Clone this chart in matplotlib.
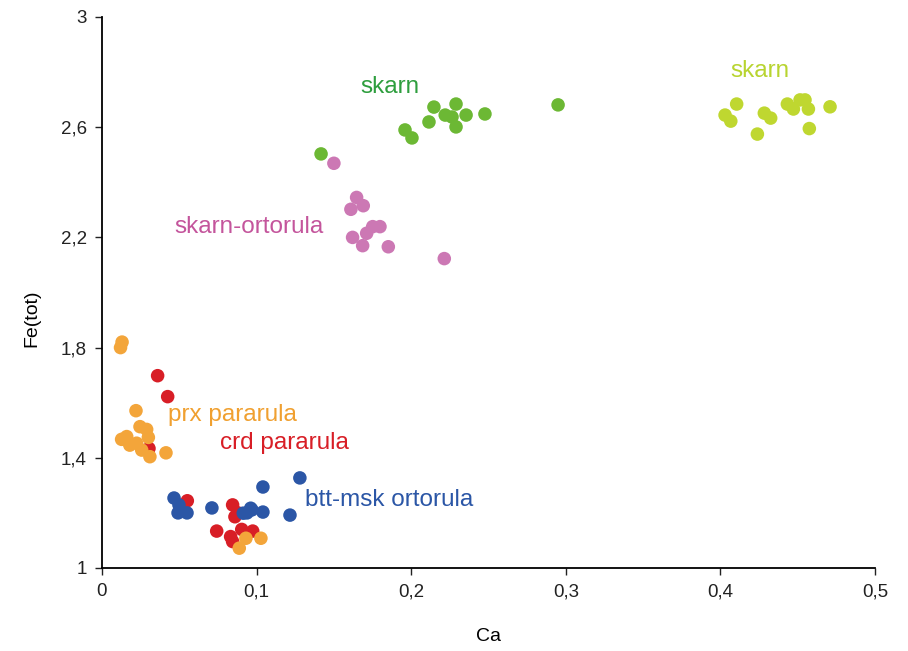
import matplotlib
matplotlib.use("Agg")
import matplotlib.pyplot as plt
from matplotlib.ticker import FuncFormatter

plt.rcParams['font.family'] = ['Liberation Sans', 'DejaVu Sans']

# skarn (green)
skarn_g_x = [0.1417, 0.196, 0.2005, 0.2115, 0.2147, 0.222, 0.2264, 0.229, 0.229, 0.2355, 0.2477, 0.295]
skarn_g_y = [2.503, 2.590, 2.561, 2.619, 2.673, 2.644, 2.637, 2.684, 2.601, 2.644, 2.648, 2.681]

# skarn (lime)
skarn_l_x = [0.403, 0.4067, 0.4105, 0.4239, 0.4284, 0.4325, 0.4433, 0.4472, 0.4515, 0.4547, 0.4569, 0.4575, 0.4709]
skarn_l_y = [2.644, 2.622, 2.684, 2.575, 2.651, 2.633, 2.684, 2.666, 2.699, 2.699, 2.666, 2.595, 2.674]

# skarn-ortorula (pink)
sko_x = [0.150, 0.1647, 0.169, 0.161, 0.1798, 0.1751, 0.1712, 0.1621, 0.1686, 0.1852, 0.2214]
sko_y = [2.469, 2.345, 2.315, 2.302, 2.239, 2.239, 2.215, 2.200, 2.170, 2.166, 2.123]

# crd pararula (red)
crd_x = [0.036, 0.0425, 0.0304, 0.0552, 0.0845, 0.086, 0.0742, 0.0832, 0.0845, 0.0904, 0.0975, 0.088]
crd_y = [1.698, 1.622, 1.434, 1.244, 1.229, 1.186, 1.134, 1.114, 1.096, 1.140, 1.134, 1.20]

# prx pararula (orange)
prx_x = [0.012, 0.013, 0.022, 0.0246, 0.0289, 0.030, 0.0127, 0.016, 0.018, 0.0224, 0.0257, 0.031, 0.0414,
         0.0888, 0.0931, 0.1028]
prx_y = [1.80, 1.82, 1.571, 1.513, 1.503, 1.474, 1.467, 1.477, 1.446, 1.453, 1.428, 1.404, 1.418,
         1.072, 1.108, 1.108]

# btt-msk ortorula (blue)
btt_x = [0.0466, 0.0498, 0.0492, 0.055, 0.0711, 0.0938, 0.097, 0.1041, 0.1041, 0.1216, 0.128, 0.0914, 0.0962]
btt_y = [1.254, 1.229, 1.200, 1.200, 1.218, 1.200, 1.211, 1.203, 1.294, 1.192, 1.327, 1.199, 1.217]

fig = plt.figure(figsize=(9.08, 6.51), dpi=100)
ax = fig.add_axes([0.1123, 0.1275, 0.8514, 0.8464])

s = 95
ax.scatter(skarn_g_x, skarn_g_y, s=s, color='#6cb834', edgecolors='none', zorder=3)
ax.scatter(skarn_l_x, skarn_l_y, s=s, color='#bfd730', edgecolors='none', zorder=3)
ax.scatter(sko_x, sko_y, s=s, color='#cc78b4', edgecolors='none', zorder=3)
ax.scatter(crd_x, crd_y, s=s, color='#d81e26', edgecolors='none', zorder=3)
ax.scatter(prx_x, prx_y, s=s, color='#f3a53a', edgecolors='none', zorder=4)
ax.scatter(btt_x, btt_y, s=s, color='#2b56a6', edgecolors='none', zorder=5)

fs = 17.5
ax.text(0.186, 2.746, 'skarn', color='#2e9e3e', fontsize=fs, ha='center', va='center')
ax.text(0.4256, 2.804, 'skarn', color='#b8d430', fontsize=fs, ha='center', va='center')
ax.text(0.095, 2.238, 'skarn-ortorula', color='#c4559c', fontsize=fs, ha='center', va='center')
ax.text(0.0847, 1.555, 'prx pararula', color='#f0a030', fontsize=fs, ha='center', va='center')
ax.text(0.1177, 1.454, 'crd pararula', color='#d81e26', fontsize=fs, ha='center', va='center')
ax.text(0.186, 1.247, 'btt-msk ortorula', color='#2b56a6', fontsize=fs, ha='center', va='center')

ax.set_xlim(0, 0.5)
ax.set_ylim(1, 3)
ax.set_xticks([0, 0.1, 0.2, 0.3, 0.4, 0.5])
ax.set_yticks([1, 1.4, 1.8, 2.2, 2.6, 3])

def fmt(v, pos):
    s_ = ('%.1f' % v).rstrip('0').rstrip('.')
    return s_.replace('.', ',')

ax.xaxis.set_major_formatter(FuncFormatter(fmt))
ax.yaxis.set_major_formatter(FuncFormatter(fmt))
ax.spines['top'].set_visible(False)
ax.spines['right'].set_visible(False)
ax.spines['left'].set_linewidth(1.3)
ax.spines['bottom'].set_linewidth(1.3)
ax.tick_params(direction='out', length=5, width=1, labelsize=13.5, colors='#222222', pad=6)
ax.set_xlabel('Ca', fontsize=14)
ax.set_ylabel('Fe(tot)', fontsize=14)
ax.xaxis.set_label_coords(0.4994, -0.109)
ax.yaxis.set_label_coords(-0.080, 0.454)

fig.savefig('out.png', dpi=100)
